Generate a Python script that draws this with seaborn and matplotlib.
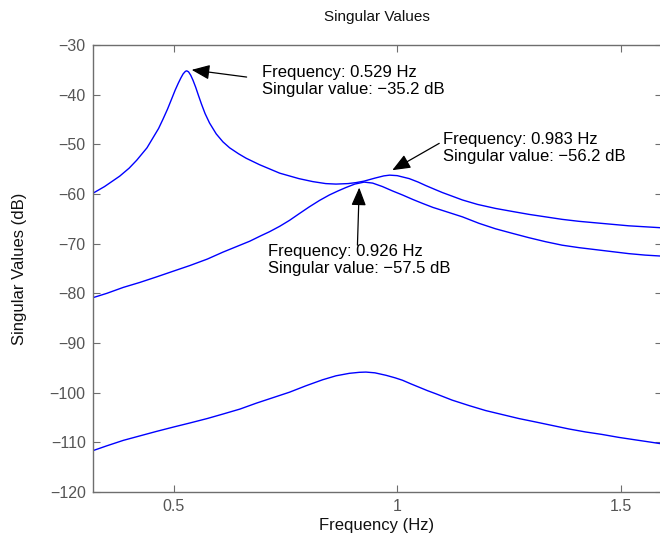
import matplotlib
matplotlib.use("Agg")
import matplotlib.pyplot as plt
import seaborn as sns
import pandas as pd

# values (Hz, dB)
freq_1 = [0.318, 0.345, 0.379, 0.400, 0.417, 0.440, 0.454, 0.466, 0.476, 0.486,
          0.495, 0.503, 0.510, 0.516, 0.521, 0.526, 0.529, 0.533, 0.538, 0.543,
          0.549, 0.555, 0.562, 0.570, 0.580, 0.595, 0.610, 0.625, 0.645, 0.662,
          0.692, 0.737, 0.780, 0.811, 0.840, 0.863, 0.890, 0.908, 0.926, 0.950,
          0.970, 0.983, 1.000, 1.027, 1.047, 1.064, 1.085, 1.101, 1.146, 1.180,
          1.220, 1.257, 1.295, 1.332, 1.369, 1.407, 1.444, 1.481, 1.518, 1.555,
          1.592]
sv_1 = [-59.9, -58.5, -56.4, -54.8, -53.2, -50.7, -48.6, -46.8, -44.9, -42.9,
        -40.9, -39.1, -37.7, -36.6, -35.8, -35.3, -35.2, -35.4, -36.1, -37.1,
        -38.5, -40.1, -41.9, -43.8, -45.7, -47.9, -49.5, -50.7, -51.9, -52.8,
        -54.1, -55.8, -56.9, -57.5, -57.9, -58.0, -57.9, -57.7, -57.4, -56.8,
        -56.35, -56.2, -56.3, -56.9, -57.6, -58.3, -59.1, -59.7, -61.2, -62.1,
        -62.9, -63.5, -64.1, -64.6, -65.1, -65.5, -65.8, -66.1, -66.4, -66.6,
        -66.8]

freq_2 = [0.318, 0.350, 0.387, 0.424, 0.461, 0.500, 0.536, 0.575, 0.610, 0.640,
          0.670, 0.695, 0.714, 0.737, 0.759, 0.780, 0.803, 0.826, 0.848, 0.867,
          0.885, 0.905, 0.926, 0.945, 0.967, 0.990, 1.012, 1.035, 1.057, 1.080,
          1.101, 1.146, 1.183, 1.220, 1.257, 1.295, 1.332, 1.369, 1.407, 1.444,
          1.481, 1.518, 1.555, 1.592]
sv_2 = [-80.9, -80.0, -78.8, -77.8, -76.7, -75.5, -74.4, -73.1, -71.7, -70.6,
        -69.5, -68.4, -67.6, -66.5, -65.3, -64.0, -62.6, -61.3, -60.2, -59.4,
        -58.7, -58.0, -57.6, -57.8, -58.5, -59.4, -60.2, -61.1, -61.9, -62.7,
        -63.3, -64.6, -65.9, -67.0, -67.9, -68.8, -69.6, -70.3, -70.8, -71.2,
        -71.6, -72.0, -72.3, -72.5]

freq_3 = [0.318, 0.350, 0.387, 0.424, 0.461, 0.500, 0.536, 0.575, 0.610, 0.648,
          0.685, 0.722, 0.759, 0.796, 0.833, 0.863, 0.893, 0.915, 0.930, 0.950,
          0.975, 0.995, 1.012, 1.030, 1.049, 1.068, 1.086, 1.123, 1.161, 1.198,
          1.235, 1.272, 1.310, 1.347, 1.384, 1.421, 1.458, 1.496, 1.533, 1.563,
          1.592]
sv_3 = [-111.7, -110.7, -109.6, -108.7, -107.8, -106.9, -106.1, -105.2, -104.3, -103.3,
        -102.1, -101.0, -99.9, -98.6, -97.4, -96.6, -96.1, -95.9, -95.85, -96.0,
        -96.5, -97.0, -97.5, -98.2, -98.9, -99.6, -100.2, -101.5, -102.6, -103.6,
        -104.4, -105.2, -105.9, -106.6, -107.3, -107.9, -108.4, -109.0, -109.5, -109.9,
        -110.3]

# data tips: text, arrow head, arrow tail, text anchor
tip_text = ["Frequency: 0.529 Hz\nSingular value: \u221235.2 dB",
            "Frequency: 0.983 Hz\nSingular value: \u221256.2 dB",
            "Frequency: 0.926 Hz\nSingular value: \u221257.5 dB"]
tip_head = [(0.540, -35.0), (0.989, -55.2), (0.915, -58.7)]
tip_tail = [(0.663, -36.45), (1.094, -49.8), (0.911, -70.3)]
tip_pos = [(0.698, -37.3), (1.103, -50.7), (0.710, -73.3)]

df = pd.concat([
    pd.DataFrame({"freq": freq_1, "sv": sv_1, "curve": "s1"}),
    pd.DataFrame({"freq": freq_2, "sv": sv_2, "curve": "s2"}),
    pd.DataFrame({"freq": freq_3, "sv": sv_3, "curve": "s3"}),
])

sns.set_style("ticks")
plt.rcParams["font.family"] = ["Liberation Sans", "DejaVu Sans"]
plt.rcParams["axes.unicode_minus"] = True

fig = plt.figure(figsize=(6.6, 5.45), dpi=100)
ax = fig.add_axes([0.1403, 0.0972, 0.862, 0.8202])

for name, grp in df.groupby("curve"):
    sns.lineplot(data=grp, x="freq", y="sv", ax=ax, color="#0000ff",
                 linewidth=1.0, estimator=None, sort=True, legend=False)

ax.set_xlim(0.3183, 1.5915)
ax.set_ylim(-120, -30)
ax.set_xticks([0.5, 1, 1.5])
ax.set_xticklabels(["0.5", "1", "1.5"])
ax.set_yticks(range(-120, -29, 10))

grey = "#6e6e6e"
for s in ax.spines.values():
    s.set_visible(True)
    s.set_color(grey)
    s.set_linewidth(1.0)
ax.tick_params(direction="in", length=5, width=0.8, color=grey,
               labelcolor="#555555", labelsize=11.5,
               top=True, right=True, pad=5)

ax.set_xlabel("Frequency (Hz)", fontsize=12, color="#111111", labelpad=3)
ax.set_ylabel("Singular Values (dB)", fontsize=12, color="#111111", labelpad=16)
ax.set_title("Singular Values", fontsize=11, color="#111111", pad=17)

for txt, head, tail, pos in zip(tip_text, tip_head, tip_tail, tip_pos):
    ax.annotate("", xy=head, xytext=tail,
                arrowprops=dict(arrowstyle="-|>,head_length=1.1,head_width=0.45",
                                color="black", lw=0.9, shrinkA=0, shrinkB=0,
                                mutation_scale=10))
    ax.text(pos[0], pos[1], txt, ha="left", va="center", fontsize=12,
            color="black", linespacing=1.2)

fig.savefig("out.png", dpi=100)
